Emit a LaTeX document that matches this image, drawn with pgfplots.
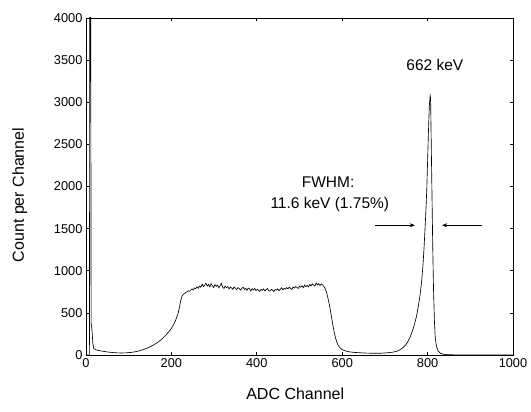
\documentclass[border=0pt]{standalone}
\usepackage{fontspec}
\setmainfont{Liberation Sans}
\usepackage{pgfplots}
\pgfplotsset{compat=1.18}
\usetikzlibrary{arrows.meta}
\begin{document}
\begin{tikzpicture}
\path[use as bounding box] (-86pt,-57pt) rectangle (445pt,355pt);
\begin{axis}[
 at={(0pt,0pt)}, anchor=south west,
 scale only axis, width=427pt, height=337pt,
 xmin=0, xmax=1000, ymin=0, ymax=4000,
 xtick={0,200,...,1000}, ytick={0,500,...,4000},
 scaled ticks=false,
 tick align=inside, major tick length=3pt,
 /pgf/number format/assume math mode=true,
 /pgf/number format/1000 sep={},
 tick label style={font=\fontsize{12.8}{14}\selectfont},
 label style={font=\fontsize{16}{18}\selectfont},
 xlabel={ADC Channel}, ylabel={Count per Channel},
 xlabel style={at={(axis description cs:0.49,-0.116)},anchor=center},
 ylabel style={at={(axis description cs:-0.155,0.475)},anchor=center},
 axis line style={line width=0.8pt},
 every tick/.style={black, line width=0.6pt},
]
\addplot[black, line width=0.65pt] coordinates {
(2,0) (8,0) (9,4500) (11,4500) (12,380) (14,300) (16,140) (18,80) (22,62) (28,55) (35,48) (45,40) (55,33) (65,28) (75,25) (85,24) (95,26) (105,30) (115,38) (125,50) (135,65) (145,85) (155,110) (165,140) (172,165) (180,200) (186,230) (192,265) (198,300) (204,350) (208,390) (212,440) (216,500) (219,570) (222,650) (225,700) (228,720) (232,735)
(236,748) (239,762) (242,755) (245,770) (248,785) (251,772) (254,795) (257,788) (260,810) (263,792) (266,818) (269,805) (272,840) (275,812) (278,830) (281,852) (284,818) (287,838) (290,808) (293,845) (296,822) (299,800) (302,835) (305,815) (308,828) (311,798) (314,820) (317,850) (320,805) (323,790) (326,818) (329,800) (332,812) (335,785) (338,806) (341,795) (344,780) (347,808) (350,790) (353,775) (356,800) (359,788) (362,770) (365,792) (368,805) (371,778) (374,790) (377,768) (380,795) (383,782) (386,760) (389,788) (392,772) (395,790) (398,765) (401,778) (404,770) (407,755) (410,780) (413,768) (416,785) (419,760) (422,775) (425,790) (428,765) (431,758) (434,780) (437,770) (440,752) (443,778) (446,770) (449,785) (452,765) (455,780) (458,798) (461,775) (464,790) (467,782) (470,800) (473,785) (476,805) (479,790) (482,778) (485,808) (488,795) (491,812) (494,800) (497,790) (500,815) (503,805) (506,822) (509,800) (512,830) (515,812) (518,825) (521,808) (524,838) (527,820) (530,845) (533,828) (536,818) (539,855) (542,832) (545,848) (548,825) (551,842) (554,830) (557,815)
(560,790) (563,750) (566,690) (569,620) (572,540) (575,450) (578,360) (581,280) (584,210) (587,160) (590,120) (594,90) (598,70) (604,55) (612,42) (620,35) (630,30) (640,27) (650,24) (660,22) (670,21) (680,20) (690,21) (700,24) (710,28) (720,35) (728,45) (735,60) (742,85) (748,115) (754,160) (759,210) (764,280) (769,360) (774,460) (778,570) (782,700) (786,870) (789,1050) (792,1300) (795,1600) (798,1950) (800,2300) (802,2650) (804,2950) (806,3080) (807,3050) (808,2700) (810,2000) (812,1300) (814,750) (816,400) (818,200) (821,100) (825,45) (830,20) (836,10) (845,4) (860,2) (880,0) (1000,0)
};
\node[font=\fontsize{15.5}{17}\selectfont] at (axis cs:567,2050) {FWHM:};
\node[font=\fontsize{15.5}{17}\selectfont] at (axis cs:571,1790) {11.6 keV (1.75\%)};
\node[font=\fontsize{15.5}{17}\selectfont] at (axis cs:817,3440) {662 keV};
\draw[-{Stealth[length=5pt,width=4pt]}, line width=0.5pt] (axis cs:677,1540) -- (axis cs:770,1540);
\draw[-{Stealth[length=5pt,width=4pt]}, line width=0.5pt] (axis cs:927,1540) -- (axis cs:834,1540);
\end{axis}
\end{tikzpicture}
\end{document}
